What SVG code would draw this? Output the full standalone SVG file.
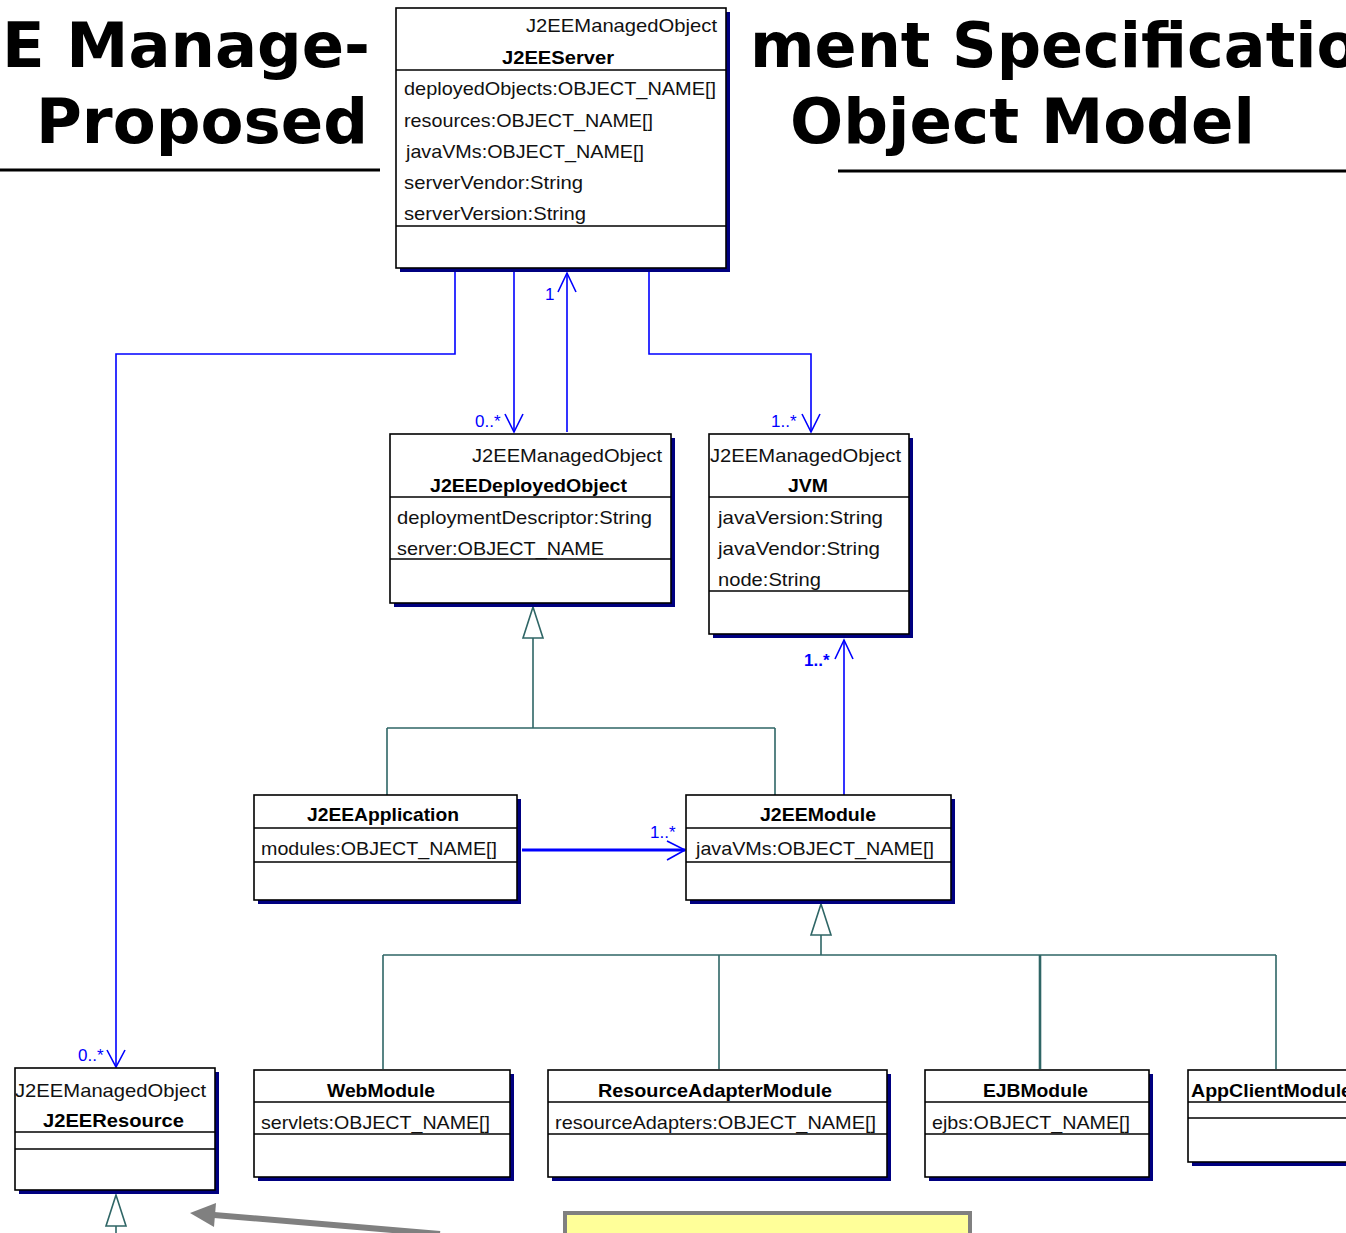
<svg xmlns="http://www.w3.org/2000/svg" width="1346" height="1233" viewBox="0 0 1346 1233">
<style>
.title{font-family:"DejaVu Sans",Verdana,sans-serif;font-weight:bold;font-size:62px;fill:#000}
.t{font-family:"Liberation Sans",Arial,sans-serif;font-size:19px;fill:#111}
.b{font-family:"Liberation Sans",Arial,sans-serif;font-size:19px;font-weight:bold;fill:#000}
.shadow{fill:#000080}
.box{fill:#fff;stroke:#000;stroke-width:1.6}
.div{stroke:#000;stroke-width:1.3}
.assoc{fill:none;stroke:#0000ff;stroke-width:1.6}
.gen{fill:none;stroke:#2f6666;stroke-width:1.6}
.tri{fill:#fff;stroke:#2f6666;stroke-width:1.6}
.lbl{font-family:"Liberation Sans",Arial,sans-serif;font-size:17px;fill:#0000ff}
</style>
<g id="title">
<text class="title" x="2" y="67" textLength="368" lengthAdjust="spacingAndGlyphs">E Manage-</text>
<text class="title" x="36" y="143" textLength="332" lengthAdjust="spacingAndGlyphs">Proposed</text>
<text class="title" x="750" y="67">ment Specificatio</text>
<text class="title" x="790" y="143" textLength="465" lengthAdjust="spacingAndGlyphs">Object Model</text>
<line x1="0" y1="170" x2="380" y2="170" stroke="#000" stroke-width="3"/>
<line x1="838" y1="171" x2="1346" y2="171" stroke="#000" stroke-width="3"/>
</g>
<g id="connectors">
<path class="assoc" d="M455,272 V354 H116 V1067"/>
<path class="assoc" d="M107,1050 L116,1067 L125,1050"/>
<text class="lbl" x="78" y="1061" font-size="16">0..*</text>
<path class="assoc" d="M514,272 V432"/>
<path class="assoc" d="M505,414 L514,432 L523,414"/>
<text class="lbl" x="475" y="427" font-size="16">0..*</text>
<path class="assoc" d="M567,432 V273"/>
<path class="assoc" d="M558,292 L567,273 L576,292"/>
<text class="lbl" x="545" y="300">1</text>
<path class="assoc" d="M649,272 V354 H811 V432"/>
<path class="assoc" d="M802,414 L811,432 L820,414"/>
<text class="lbl" x="771" y="427" font-size="16">1..*</text>
<path class="assoc" d="M844,795 V640"/>
<path class="assoc" d="M835,659 L844,640 L853,659"/>
<text class="lbl" x="804" y="666" font-weight="bold">1..*</text>
<path class="assoc" d="M522,850 H685" style="stroke-width:3"/>
<path class="assoc" d="M667,841 L685,850 L667,860"/>
<text class="lbl" x="650" y="838">1..*</text>
<path class="gen" d="M533,638 V728 M387,728 H775 M387,728 V795 M775,728 V795"/>
<polygon class="tri" points="533,607 523,638 543,638"/>
<path class="gen" d="M821,935 V955 M383,955 H1276 M383,955 V1069 M719,955 V1069 M1276,955 V1069"/>
<path class="gen" d="M1040,955 V1069" style="stroke-width:2.6"/>
<polygon class="tri" points="821,904 811,935 831,935"/>
<path class="gen" d="M116,1226 V1233"/>
<polygon class="tri" points="116,1195 106,1226 126,1226"/>
</g>
<g id="J2EEServer">
<rect class="shadow" x="400" y="12" width="330" height="260"/>
<rect class="box" x="396" y="8" width="330" height="260"/>
<line class="div" x1="396" y1="70" x2="726" y2="70"/>
<line class="div" x1="396" y1="226" x2="726" y2="226"/>
<text class="t" x="526" y="32" textLength="191" lengthAdjust="spacingAndGlyphs">J2EEManagedObject</text>
<text class="b" x="502" y="64" textLength="112" lengthAdjust="spacingAndGlyphs">J2EEServer</text>
<text class="t" x="404" y="95" textLength="312" lengthAdjust="spacingAndGlyphs">deployedObjects:OBJECT_NAME[]</text>
<text class="t" x="404" y="127" textLength="249" lengthAdjust="spacingAndGlyphs">resources:OBJECT_NAME[]</text>
<text class="t" x="406" y="158" textLength="238" lengthAdjust="spacingAndGlyphs">javaVMs:OBJECT_NAME[]</text>
<text class="t" x="404" y="189" textLength="179" lengthAdjust="spacingAndGlyphs">serverVendor:String</text>
<text class="t" x="404" y="220" textLength="182" lengthAdjust="spacingAndGlyphs">serverVersion:String</text>
</g>
<g id="J2EEDeployedObject">
<rect class="shadow" x="394" y="438" width="281" height="169"/>
<rect class="box" x="390" y="434" width="281" height="169"/>
<line class="div" x1="390" y1="497" x2="671" y2="497"/>
<line class="div" x1="390" y1="559" x2="671" y2="559"/>
<text class="t" x="472" y="462" textLength="190" lengthAdjust="spacingAndGlyphs">J2EEManagedObject</text>
<text class="b" x="430" y="492" textLength="197" lengthAdjust="spacingAndGlyphs">J2EEDeployedObject</text>
<text class="t" x="397" y="524" textLength="255" lengthAdjust="spacingAndGlyphs">deploymentDescriptor:String</text>
<text class="t" x="397" y="555" textLength="207" lengthAdjust="spacingAndGlyphs">server:OBJECT_NAME</text>
</g>
<g id="JVM">
<rect class="shadow" x="713" y="438" width="200" height="200"/>
<rect class="box" x="709" y="434" width="200" height="200"/>
<line class="div" x1="709" y1="497" x2="909" y2="497"/>
<line class="div" x1="709" y1="591" x2="909" y2="591"/>
<text class="t" x="710" y="462" textLength="191" lengthAdjust="spacingAndGlyphs">J2EEManagedObject</text>
<text class="b" x="788" y="492" textLength="40" lengthAdjust="spacingAndGlyphs">JVM</text>
<text class="t" x="718" y="524" textLength="165" lengthAdjust="spacingAndGlyphs">javaVersion:String</text>
<text class="t" x="718" y="555" textLength="162" lengthAdjust="spacingAndGlyphs">javaVendor:String</text>
<text class="t" x="718" y="586" textLength="103" lengthAdjust="spacingAndGlyphs">node:String</text>
</g>
<g id="J2EEApplication">
<rect class="shadow" x="258" y="799" width="263" height="105"/>
<rect class="box" x="254" y="795" width="263" height="105"/>
<line class="div" x1="254" y1="828" x2="517" y2="828"/>
<line class="div" x1="254" y1="862" x2="517" y2="862"/>
<text class="b" x="307" y="821" textLength="152" lengthAdjust="spacingAndGlyphs">J2EEApplication</text>
<text class="t" x="261" y="855" textLength="236" lengthAdjust="spacingAndGlyphs">modules:OBJECT_NAME[]</text>
</g>
<g id="J2EEModule">
<rect class="shadow" x="690" y="799" width="265" height="105"/>
<rect class="box" x="686" y="795" width="265" height="105"/>
<line class="div" x1="686" y1="828" x2="951" y2="828"/>
<line class="div" x1="686" y1="862" x2="951" y2="862"/>
<text class="b" x="760" y="821" textLength="116" lengthAdjust="spacingAndGlyphs">J2EEModule</text>
<text class="t" x="696" y="855" textLength="238" lengthAdjust="spacingAndGlyphs">javaVMs:OBJECT_NAME[]</text>
</g>
<g id="J2EEResource">
<rect class="shadow" x="19" y="1072" width="200" height="122"/>
<rect class="box" x="15" y="1068" width="200" height="122"/>
<line class="div" x1="15" y1="1132" x2="215" y2="1132"/>
<line class="div" x1="15" y1="1149" x2="215" y2="1149"/>
<text class="t" x="15" y="1097" textLength="191" lengthAdjust="spacingAndGlyphs">J2EEManagedObject</text>
<text class="b" x="43" y="1127" textLength="141" lengthAdjust="spacingAndGlyphs">J2EEResource</text>
</g>
<g id="WebModule">
<rect class="shadow" x="258" y="1074" width="256" height="107"/>
<rect class="box" x="254" y="1070" width="256" height="107"/>
<line class="div" x1="254" y1="1102" x2="510" y2="1102"/>
<line class="div" x1="254" y1="1134" x2="510" y2="1134"/>
<text class="b" x="327" y="1097" textLength="108" lengthAdjust="spacingAndGlyphs">WebModule</text>
<text class="t" x="261" y="1129" textLength="229" lengthAdjust="spacingAndGlyphs">servlets:OBJECT_NAME[]</text>
</g>
<g id="ResourceAdapterModule">
<rect class="shadow" x="552" y="1074" width="339" height="107"/>
<rect class="box" x="548" y="1070" width="339" height="107"/>
<line class="div" x1="548" y1="1102" x2="887" y2="1102"/>
<line class="div" x1="548" y1="1134" x2="887" y2="1134"/>
<text class="b" x="598" y="1097" textLength="234" lengthAdjust="spacingAndGlyphs">ResourceAdapterModule</text>
<text class="t" x="555" y="1129" textLength="321" lengthAdjust="spacingAndGlyphs">resourceAdapters:OBJECT_NAME[]</text>
</g>
<g id="EJBModule">
<rect class="shadow" x="929" y="1074" width="224" height="107"/>
<rect class="box" x="925" y="1070" width="224" height="107"/>
<line class="div" x1="925" y1="1102" x2="1149" y2="1102"/>
<line class="div" x1="925" y1="1134" x2="1149" y2="1134"/>
<text class="b" x="983" y="1097" textLength="105" lengthAdjust="spacingAndGlyphs">EJBModule</text>
<text class="t" x="932" y="1129" textLength="198" lengthAdjust="spacingAndGlyphs">ejbs:OBJECT_NAME[]</text>
</g>
<g id="AppClientModule">
<rect class="shadow" x="1192" y="1074" width="180" height="92"/>
<rect class="box" x="1188" y="1070" width="180" height="92"/>
<line class="div" x1="1188" y1="1102" x2="1368" y2="1102"/>
<line class="div" x1="1188" y1="1118" x2="1368" y2="1118"/>
<text class="b" x="1191" y="1097" textLength="161" lengthAdjust="spacingAndGlyphs">AppClientModule</text>
</g>
<g id="callout">
<line x1="440" y1="1234" x2="214" y2="1215" stroke="#808080" stroke-width="6"/>
<polygon points="190,1213 216,1203 214,1227" fill="#808080"/>
<rect x="565" y="1213" width="405" height="40" fill="#ffff99" stroke="#808080" stroke-width="4"/>
</g>
</svg>
